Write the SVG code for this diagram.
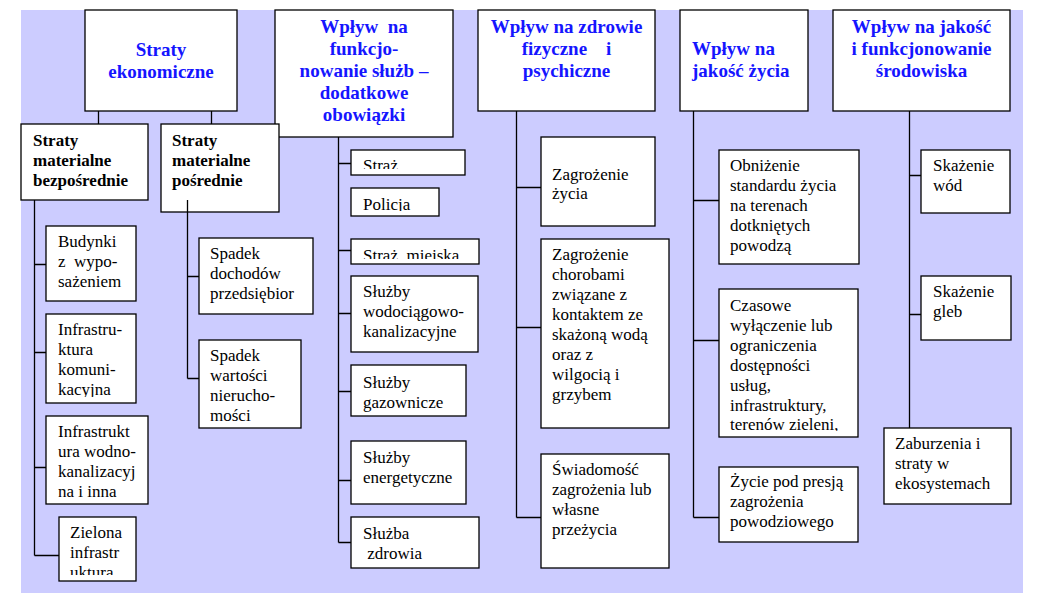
<svg xmlns="http://www.w3.org/2000/svg" width="1053" height="599" viewBox="0 0 1053 599">
<style>
.bg{fill:#CCCCFF}
.box{fill:#fff;stroke:#000;stroke-width:1.3}
text{font-family:'Liberation Serif','Times New Roman','DejaVu Serif',serif}
.h{font-weight:bold;font-size:19px;fill:#1515FF;text-anchor:middle}
.hl{text-anchor:start}
.hb{font-weight:bold;font-size:17px;fill:#000}
.t{font-size:17px;fill:#000}
.pre{white-space:pre}
.c{stroke:#000;stroke-width:1.3;fill:none}
</style>
<defs>
<clipPath id="clipStraz"><rect x="351" y="150" width="114" height="19"/></clipPath>
<clipPath id="clipPolicja"><rect x="351" y="188" width="88" height="23"/></clipPath>
<clipPath id="clipStrazM"><rect x="351" y="239" width="128" height="20"/></clipPath>
<clipPath id="clipKom"><rect x="46" y="314" width="90" height="83"/></clipPath>
<clipPath id="clipZielona"><rect x="59" y="517" width="77" height="58"/></clipPath>
<clipPath id="clipCzasowe"><rect x="719" y="289" width="139" height="142"/></clipPath>
</defs>
<rect class="bg" x="21" y="10" width="1002" height="583"/>

<g id="connectors">
<path class="c" d="M98.5 111V124M211.5 111V124"/>
<path class="c" d="M34.5 200V555.5M34.5 264.5H46M34.5 352.5H46M34.5 467.5H46M34.5 555.5H59"/>
<path class="c" d="M187.5 200V378.5M187.5 276.5H199M187.5 378.5H199"/>
<path class="c" d="M338.5 137V542.5M338.5 163.5H351M338.5 250.5H351M338.5 313.5H351M338.5 391.5H351M338.5 480.5H351M338.5 542.5H351"/>
<path class="c" d="M516.5 111V517.5M516.5 187.5H541M516.5 327.5H541M516.5 517.5H541"/>
<path class="c" d="M693.5 111V517.5M693.5 200.5H719M693.5 340.5H719M693.5 517.5H719"/>
<path class="c" d="M909.5 111V428M909.5 175.5H921M909.5 314.5H921"/>
</g>

<g id="straty-ekonomiczne">
<rect class="box" x="85" y="10" width="152" height="101"/>
<text class="h" x="161" y="56">Straty</text>
<text class="h" x="161" y="78">ekonomiczne</text>
</g>
<g id="wplyw-sluzby">
<rect class="box" x="275" y="10" width="178" height="127"/>
<text class="h pre" x="364" y="33" xml:space="preserve">Wpływ  na</text>
<text class="h" x="364" y="55">funkcjo-</text>
<text class="h" x="364" y="77">nowanie służb –</text>
<text class="h" x="364" y="99">dodatkowe</text>
<text class="h" x="364" y="121">obowiązki</text>
</g>
<g id="wplyw-zdrowie">
<rect class="box" x="478" y="10" width="177" height="101"/>
<text class="h" x="566.5" y="33">Wpływ na zdrowie</text>
<text class="h pre" x="566.5" y="55" xml:space="preserve">fizyczne    i</text>
<text class="h" x="566.5" y="77">psychiczne</text>
</g>
<g id="wplyw-jakosc-zycia">
<rect class="box" x="680" y="10" width="128" height="101"/>
<text class="h hl" x="692" y="55">Wpływ na</text>
<text class="h hl" x="692" y="77">jakość życia</text>
</g>
<g id="wplyw-srodowisko">
<rect class="box" x="833" y="10" width="177" height="101"/>
<text class="h" x="921.5" y="33">Wpływ na jakość</text>
<text class="h" x="921.5" y="55">i funkcjonowanie</text>
<text class="h" x="921.5" y="77">środowiska</text>
</g>

<g id="straty-bezposrednie">
<rect class="box" x="21" y="124" width="127" height="76"/>
<text class="hb" x="33" y="146">Straty</text>
<text class="hb" x="33" y="166">materialne</text>
<text class="hb" x="33" y="186">bezpośrednie</text>
</g>
<g id="straty-posrednie">
<rect class="box" x="161" y="124" width="118" height="88"/>
<text class="hb" x="172" y="146">Straty</text>
<text class="hb" x="172" y="166">materialne</text>
<text class="hb" x="172" y="186">pośrednie</text>
<line class="c" x1="187.5" y1="200" x2="187.5" y2="212"/>
</g>

<g id="budynki">
<rect class="box" x="46" y="226" width="90" height="75"/>
<text class="t" x="58" y="247">Budynki</text>
<text class="t pre" x="58" y="267" xml:space="preserve">z  wypo-</text>
<text class="t" x="58" y="287">sażeniem</text>
</g>
<g id="infra-kom">
<rect class="box" x="46" y="314" width="90" height="89"/>
<g clip-path="url(#clipKom)">
<text class="t" x="58" y="335">Infrastru-</text>
<text class="t" x="58" y="355">ktura</text>
<text class="t" x="58" y="375">komuni-</text>
<text class="t" x="58" y="395">kacyjna</text>
</g>
</g>
<g id="infra-wod">
<rect class="box" x="46" y="416" width="102" height="88"/>
<text class="t" x="58" y="437">Infrastrukt</text>
<text class="t" x="58" y="457">ura wodno-</text>
<text class="t" x="58" y="477">kanalizacyj</text>
<text class="t" x="58" y="497">na i inna</text>
</g>
<g id="zielona">
<rect class="box" x="59" y="517" width="77" height="64"/>
<g clip-path="url(#clipZielona)">
<text class="t" x="70" y="538">Zielona</text>
<text class="t" x="70" y="558">infrastr</text>
<text class="t" x="70" y="578">uktura</text>
</g>
</g>

<g id="spadek-dochodow">
<rect class="box" x="199" y="238" width="114" height="76"/>
<text class="t" x="210" y="259">Spadek</text>
<text class="t" x="210" y="279">dochodów</text>
<text class="t" x="210" y="299">przedsiębior</text>
</g>
<g id="spadek-wartosci">
<rect class="box" x="199" y="340" width="102" height="88"/>
<text class="t" x="210" y="361">Spadek</text>
<text class="t" x="210" y="381">wartości</text>
<text class="t" x="210" y="401">nierucho-</text>
<text class="t" x="210" y="421">mości</text>
</g>

<g id="straz">
<rect class="box" x="351" y="150" width="114" height="25"/>
<text class="t" x="363" y="171" clip-path="url(#clipStraz)">Straż</text>
</g>
<g id="policja">
<rect class="box" x="351" y="188" width="88" height="28"/>
<text class="t" x="363" y="210" clip-path="url(#clipPolicja)">Policja</text>
</g>
<g id="straz-miejska">
<rect class="box" x="351" y="239" width="128" height="25"/>
<text class="t pre" x="363" y="261" clip-path="url(#clipStrazM)" xml:space="preserve">Straż  miejska</text>
</g>
<g id="sluzby-wod">
<rect class="box" x="351" y="276" width="127" height="76"/>
<text class="t" x="363" y="297">Służby</text>
<text class="t" x="363" y="317">wodociągowo-</text>
<text class="t" x="363" y="337">kanalizacyjne</text>
</g>
<g id="sluzby-gaz">
<rect class="box" x="351" y="365" width="115" height="51"/>
<text class="t" x="363" y="388">Służby</text>
<text class="t" x="363" y="408">gazownicze</text>
</g>
<g id="sluzby-energ">
<rect class="box" x="351" y="441" width="115" height="63"/>
<text class="t" x="363" y="463">Służby</text>
<text class="t" x="363" y="483">energetyczne</text>
</g>
<g id="sluzba-zdrowia">
<rect class="box" x="351" y="517" width="128" height="51"/>
<text class="t" x="363" y="539">Służba</text>
<text class="t pre" x="363" y="559" xml:space="preserve"> zdrowia</text>
</g>

<g id="zagrozenie-zycia">
<rect class="box" x="541" y="137" width="114" height="89"/>
<text class="t" x="552" y="180">Zagrożenie</text>
<text class="t" x="552" y="199">życia</text>
</g>
<g id="zagrozenie-chorobami">
<rect class="box" x="541" y="239" width="128" height="189"/>
<text class="t" x="552" y="260">Zagrożenie</text>
<text class="t" x="552" y="280">chorobami</text>
<text class="t" x="552" y="300">związane z</text>
<text class="t" x="552" y="320">kontaktem ze</text>
<text class="t" x="552" y="340">skażoną wodą</text>
<text class="t" x="552" y="360">oraz z</text>
<text class="t" x="552" y="380">wilgocią i</text>
<text class="t" x="552" y="400">grzybem</text>
</g>
<g id="swiadomosc">
<rect class="box" x="541" y="454" width="128" height="114"/>
<text class="t" x="552" y="475">Świadomość</text>
<text class="t" x="552" y="495">zagrożenia lub</text>
<text class="t" x="552" y="515">własne</text>
<text class="t" x="552" y="535">przeżycia</text>
</g>

<g id="obnizenie">
<rect class="box" x="719" y="150" width="140" height="114"/>
<text class="t" x="730" y="171">Obniżenie</text>
<text class="t" x="730" y="191">standardu życia</text>
<text class="t" x="730" y="211">na terenach</text>
<text class="t" x="730" y="231">dotkniętych</text>
<text class="t" x="730" y="251">powodzą</text>
</g>
<g id="czasowe">
<rect class="box" x="719" y="289" width="139" height="148"/>
<g clip-path="url(#clipCzasowe)">
<text class="t" x="730" y="311">Czasowe</text>
<text class="t" x="730" y="331">wyłączenie lub</text>
<text class="t" x="730" y="351">ograniczenia</text>
<text class="t" x="730" y="371">dostępności</text>
<text class="t" x="730" y="391">usług,</text>
<text class="t" x="730" y="411">infrastruktury,</text>
<text class="t" x="730" y="430">terenów zieleni,</text>
</g>
</g>
<g id="zycie-pod-presja">
<rect class="box" x="719" y="467" width="139" height="75"/>
<text class="t" x="730" y="487">Życie pod presją</text>
<text class="t" x="730" y="507">zagrożenia</text>
<text class="t" x="730" y="527">powodziowego</text>
</g>

<g id="skazenie-wod">
<rect class="box" x="921" y="150" width="89" height="63"/>
<text class="t" x="933" y="171">Skażenie</text>
<text class="t" x="933" y="191">wód</text>
</g>
<g id="skazenie-gleb">
<rect class="box" x="921" y="276" width="90" height="64"/>
<text class="t" x="933" y="297">Skażenie</text>
<text class="t" x="933" y="317">gleb</text>
</g>
<g id="zaburzenia">
<rect class="box" x="884" y="428" width="127" height="76"/>
<text class="t" x="895" y="449">Zaburzenia i</text>
<text class="t" x="895" y="469">straty w</text>
<text class="t" x="895" y="489">ekosystemach</text>
</g>
</svg>
